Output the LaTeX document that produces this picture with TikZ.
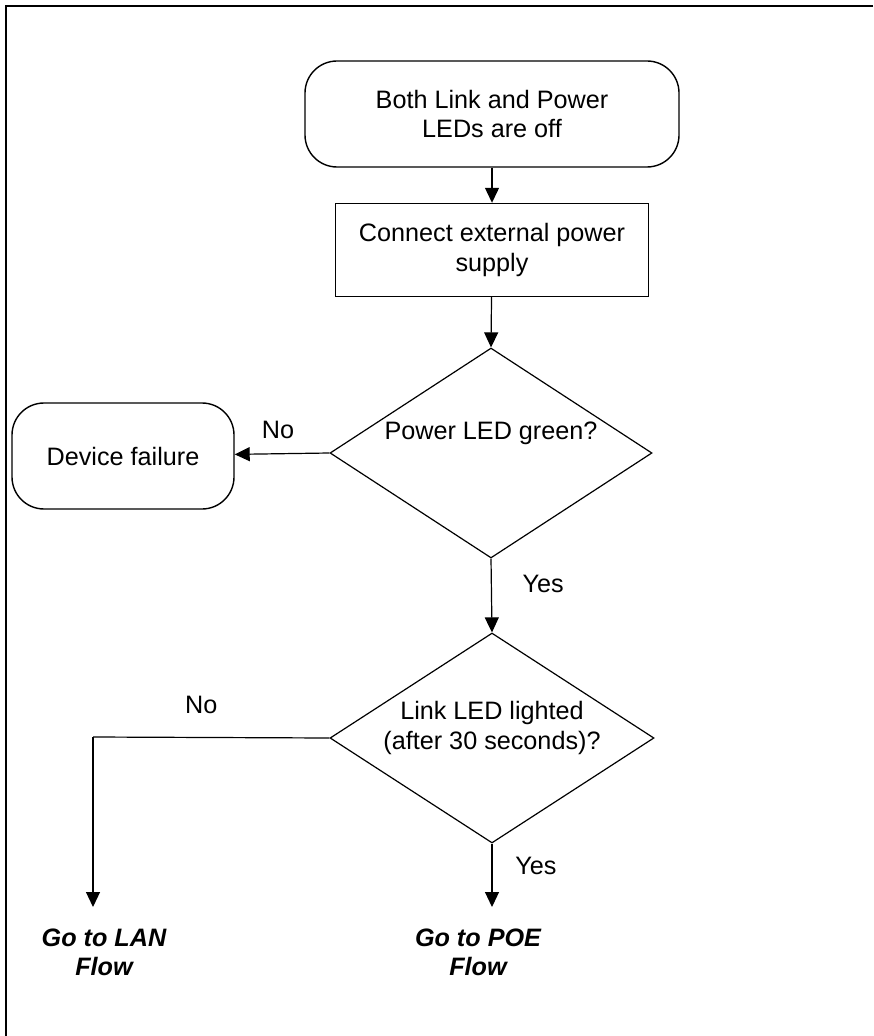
\documentclass[tikz,border=0pt]{standalone}
\usepackage{fontspec}
\setmainfont{Liberation Sans}
\usepackage{tikz}
\usetikzlibrary{calc,shapes.geometric,arrows.meta}

\begin{document}
\begin{tikzpicture}[x=0.5pt,y=-0.5pt,
    font=\fontsize{12.6}{14.6}\selectfont,
    term/.style={draw, line width=0.7pt, rounded corners=16pt, align=center},
    proc/.style={draw, line width=0.7pt, align=center},
    dec/.style={draw, line width=0.6pt, diamond, inner sep=0pt},
    flow/.style={line width=0.6pt, -{Triangle[length=7.5pt,width=7pt]}},
    goto/.style={align=center, font=\fontsize{12.6}{14.6}\selectfont\bfseries\itshape}]
            \useasboundingbox (0,0) rectangle (873,1036);
            \draw[line width=1pt] (873,6) -- (6,6) -- (6,1036);

            \coordinate (S) at (492,114);
            \coordinate (P) at (492,250);
            \coordinate (G) at (491,453);
            \coordinate (F) at (123,456);
            \coordinate (L) at (492,738);
            \coordinate (K) at (93,737);
            \coordinate (T) at (93,907);
            \coordinate (U) at (492,907);

            \node[term, minimum width=187pt, minimum height=53pt] (start) at (S) {Both Link and Power\\LEDs are off};
            \node[proc, minimum width=156.5pt, minimum height=46.5pt] (supply) at (P) {Connect external power\\supply};
            \node[dec, minimum width=161pt, minimum height=105pt] (green) at (G) {};
            \node at ([yshift=10pt]green.center) {Power LED green?};
            \node[term, minimum width=111pt, minimum height=53pt] (fail) at (F) {Device failure};
            \node[dec, minimum width=162pt, minimum height=105pt] (link) at (L) {};
            \node[align=center] at ([yshift=5pt]link.center) {Link LED lighted\\(after 30 seconds)?};
            \node[goto, anchor=north] (lan) at ([xshift=5.5pt,yshift=-7.5pt]T) {Go to LAN\\Flow};
            \node[goto, anchor=north] (poe) at ([xshift=-7pt,yshift=-7.5pt]U) {Go to POE\\Flow};

            \draw[flow] (start) -- (supply);
            \draw[flow] (supply) -- (green.north);
            \draw[flow] (green.west) -- node[above=4pt, xshift=-2pt] {No} (fail);
            \draw[flow] (green.south) -- node[right=12pt, pos=0.35] {Yes} (link.north);
            \draw[line width=0.6pt] (link.west) -- node[above=8pt, xshift=-5pt] {No} (K);
            \draw[flow] (K) -- (T);
            \draw[flow] (link.south) -- node[right=8pt, pos=0.35] {Yes} (U);
        \end{tikzpicture}
\end{document}
